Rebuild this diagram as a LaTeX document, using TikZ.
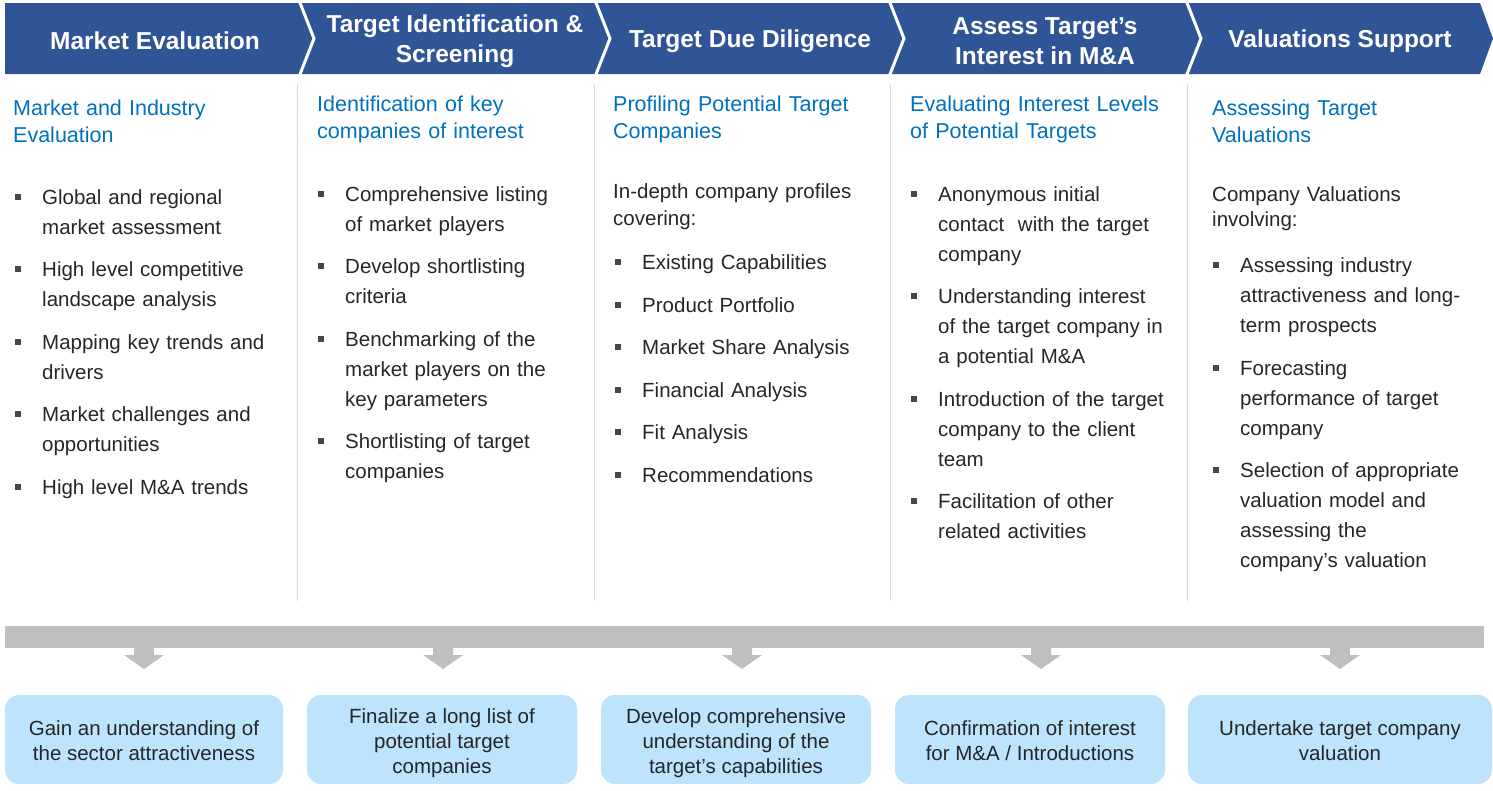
\documentclass[tikz,border=0pt]{standalone}
\usepackage{fontspec}
\setmainfont{Liberation Sans}
\definecolor{hdr}{HTML}{2F5597}
\definecolor{hblue}{HTML}{0070C0}
\definecolor{txt}{HTML}{262626}
\definecolor{barg}{HTML}{BFBFBF}
\definecolor{boxb}{HTML}{BDE3FD}
\definecolor{sepg}{HTML}{D9D9D9}
\tikzset{
 hdrtxt/.style={text=white, font=\fontsize{24.5}{30}\selectfont\bfseries, align=center, inner sep=0pt},
 colhead/.style={text=hblue, font=\fontsize{21.5}{27}\selectfont, text width=280pt, align=left, inner sep=0pt, anchor=base west},
 body/.style={text=txt, font=\fontsize{20.5}{30}\selectfont, text width=260pt, align=left, inner sep=0pt, anchor=base west},
 sq/.style={fill=txt!85, minimum size=6pt, inner sep=0pt, draw=none},
 outbox/.style={fill=boxb, rounded corners=14pt, minimum height=89pt, inner sep=0pt},
 outtxt/.style={text=txt, font=\fontsize{20.5}{25}\selectfont, align=center, inner sep=0pt},
 downarrow/.style={fill=barg},
 colsep/.style={draw=sepg, line width=1pt},
}
\newcommand\bitem[4]{%
 \node[body] (#1) at (#2,#3) {#4};
 \node[sq] (#1s) at ([xshift=-24pt,yshift=7pt]#1.base west) {};
}
\begin{document}
\begin{tikzpicture}[x=1pt,y=-1pt]
\useasboundingbox (0,0) rectangle (1493,790);
% header band
\fill[hdr] (5,3) -- (1480,3) -- (1493,38.5) -- (1480,74) -- (5,74) -- cycle;
\foreach \s in {300,596,890,1187}
  \draw[white, line width=3pt] (\s-1.1,0) -- (\s+14,38.5) -- (\s-1.1,77);
\node[hdrtxt] (h1) at (155,41) {Market Evaluation};
\node[hdrtxt] (h2) at (455,41) {Target Identification \&\\Screening};
\node[hdrtxt] (h3) at (750,41) {Target Due Diligence};
\node[hdrtxt] (h4) at (1045,41) {Assess Target’s\\Interest in M\&A};
\node[hdrtxt] (h5) at (1340,41) {Valuations Support};
% column separators
\foreach \x in {297,594,890,1187}
  \draw[colsep] (\x,84) -- (\x,601);
% column 1
\node[colhead] (c1h) at (13,115.5) {Market and Industry\\Evaluation};
\bitem{c1a}{42}{204}{Global and regional\\market assessment}
\bitem{c1b}{42}{276}{High level competitive\\landscape analysis}
\bitem{c1c}{42}{349}{Mapping key trends and\\drivers}
\bitem{c1d}{42}{421}{Market challenges and\\opportunities}
\bitem{c1e}{42}{494}{High level M\&A trends}
% column 2
\node[colhead] (c2h) at (317,111) {Identification of key\\companies of interest};
\bitem{c2a}{345}{201}{Comprehensive listing\\of market players}
\bitem{c2b}{345}{273}{Develop shortlisting\\criteria}
\bitem{c2c}{345}{346}{Benchmarking of the\\market players on the\\key parameters}
\bitem{c2d}{345}{448}{Shortlisting of target\\companies}
% column 3
\node[colhead] (c3h) at (613,111) {Profiling Potential Target\\Companies};
\node[body, font=\fontsize{20.5}{27}\selectfont] (c3i) at (613,198) {In-depth company profiles\\covering:};
\bitem{c3a}{642}{269}{Existing Capabilities}
\bitem{c3b}{642}{312}{Product Portfolio}
\bitem{c3c}{642}{354}{Market Share Analysis}
\bitem{c3d}{642}{397}{Financial Analysis}
\bitem{c3e}{642}{439}{Fit Analysis}
\bitem{c3f}{642}{482}{Recommendations}
% column 4
\node[colhead] (c4h) at (910,111) {Evaluating Interest Levels\\of Potential Targets};
\bitem{c4a}{938}{201}{Anonymous initial\\contact~ with the target\\company}
\bitem{c4b}{938}{303}{Understanding interest\\of the target company in\\a potential M\&A}
\bitem{c4c}{938}{406}{Introduction of the target\\company to the client\\team}
\bitem{c4d}{938}{508}{Facilitation of other\\related activities}
% column 5
\node[colhead] (c5h) at (1212,115) {Assessing Target\\Valuations};
\node[body, font=\fontsize{20.5}{25}\selectfont] (c5i) at (1212,201) {Company Valuations\\involving:};
\bitem{c5a}{1240}{272}{Assessing industry\\attractiveness and long-\\term prospects}
\bitem{c5b}{1240}{375}{Forecasting\\performance of target\\company}
\bitem{c5c}{1240}{477}{Selection of appropriate\\valuation model and\\assessing the\\company’s valuation}
% bar and arrows
\fill[barg] (5,626) rectangle (1484,648);
\foreach \c in {144,443,742,1041,1340}
  \fill[downarrow] (\c-10,647) -- (\c-10,655) -- (\c-20,655) -- (\c,669) -- (\c+20,655) -- (\c+10,655) -- (\c+10,647) -- cycle;
% outcome boxes
\node[outbox, minimum width=278pt] (o1) at (144,739.5) {};
\node[outbox, minimum width=270pt] (o2) at (442,739.5) {};
\node[outbox, minimum width=270pt] (o3) at (736,739.5) {};
\node[outbox, minimum width=270pt] (o4) at (1030,739.5) {};
\node[outbox, minimum width=304pt] (o5) at (1340,739.5) {};
\node[outtxt] (o1t) at ([yshift=-1.5pt]o1.center) {Gain an understanding of\\the sector attractiveness};
\node[outtxt] (o2t) at ([yshift=-3.5pt]o2.center) {Finalize a long list of\\potential target\\companies};
\node[outtxt] (o3t) at ([yshift=-3.5pt]o3.center) {Develop comprehensive\\understanding of the\\target’s capabilities};
\node[outtxt] (o4t) at ([yshift=-1.5pt]o4.center) {Confirmation of interest\\for M\&A / Introductions};
\node[outtxt] (o5t) at ([yshift=-1.5pt]o5.center) {Undertake target company\\valuation};
\end{tikzpicture}
\end{document}
